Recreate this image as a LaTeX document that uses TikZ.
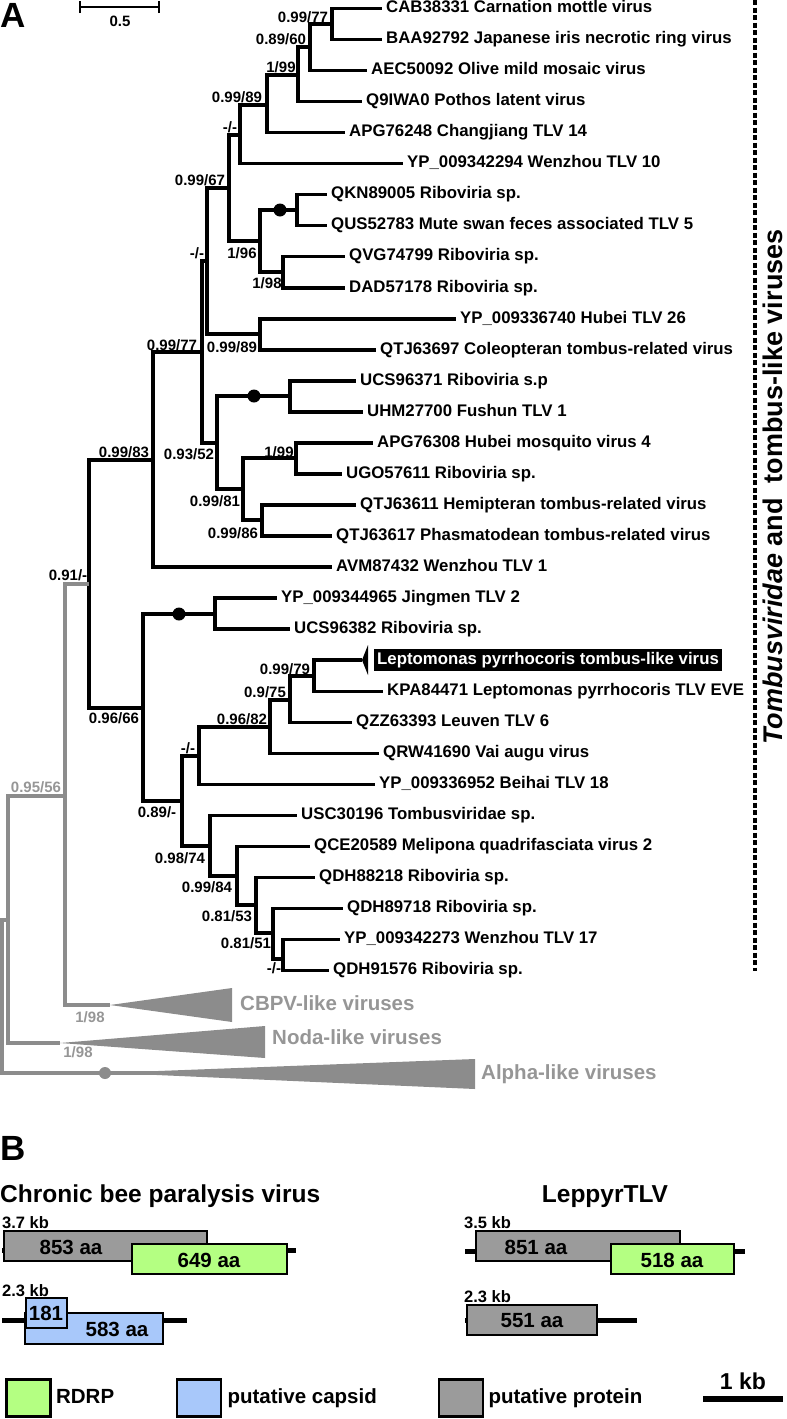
\documentclass[tikz,border=0pt]{standalone}
\usepackage{fontspec}
\setmainfont{Liberation Sans}
\usepackage{xcolor}
\usetikzlibrary{positioning}

\definecolor{treegray}{RGB}{140,140,140}
\definecolor{labgray}{RGB}{150,150,150}
\definecolor{protgray}{RGB}{155,155,155}
\definecolor{rdrpgreen}{RGB}{180,255,130}
\definecolor{capsblue}{RGB}{168,200,250}

\newcommand{\tipfont}{\fontsize{16.8}{18}\selectfont\bfseries}
\newcommand{\suppfont}{\fontsize{15}{16}\selectfont\bfseries}
\newcommand{\cladefont}{\fontsize{20.5}{22}\selectfont\bfseries}
\newcommand{\panelfont}{\fontsize{35}{38}\selectfont\bfseries}
\newcommand{\titlefont}{\fontsize{24.5}{26}\selectfont\bfseries}
\newcommand{\kbfont}{\fontsize{16.5}{18}\selectfont\bfseries}
\newcommand{\aafont}{\fontsize{20.5}{22}\selectfont\bfseries}
\newcommand{\sidefont}{\fontsize{27}{29}\selectfont\bfseries}

\begin{document}
\begin{tikzpicture}[x=1pt, y=-1pt,
br/.style={line width=3.4pt},
graybr/.style={line width=3.4pt, draw=treegray},
tiplab/.style={anchor=west, font=\tipfont, inner xsep=4pt, inner ysep=0pt, text height=12pt, text depth=3.5pt},
supp/.style={font=\suppfont, inner sep=0pt, text height=10.7pt, text depth=0pt},
nodedot/.style={circle, fill=black, inner sep=0pt, minimum size=13pt},
cladelab/.style={anchor=west, font=\cladefont, text=labgray, inner sep=0pt, text height=14.7pt, text depth=0pt},
gene/.style={draw=black, line width=2.8pt},
backbone/.style={line width=5pt},
kb/.style={anchor=base west, inner sep=0pt, font=\kbfont},
aa/.style={font=\aafont, inner sep=0pt, text height=14.7pt, text depth=0pt},
legbox/.style={draw=black, line width=2.8pt, minimum width=44pt, minimum height=37pt, inner sep=0pt},
legtext/.style={font=\aafont, inner sep=0pt, text height=14.7pt, text depth=4pt}]

\useasboundingbox (0,0) rectangle (787,1419);

\node[anchor=base west, inner sep=0pt, font=\panelfont] (labA) at (0,27) {A};
\coordinate (barl) at (80,7);
\coordinate (barr) at (159,7);
\draw[line width=2.6pt] (barl) -- (barr);
\draw[line width=2.6pt] ([yshift=-6]barl) -- ([yshift=6]barl);
\draw[line width=2.6pt] ([yshift=-6]barr) -- ([yshift=6]barr);
\node[supp] (half) at (120,21) {0.5};

\node[tiplab] (cab) at (382,8.5) {CAB38331 Carnation mottle virus};
\node[tiplab] (baa) at (382,39.5) {BAA92792 Japanese iris necrotic ring virus};
\node[tiplab] (aec) at (367,70.6) {AEC50092 Olive mild mosaic virus};
\node[tiplab] (q9i) at (362,101.6) {Q9IWA0 Pothos latent virus};
\node[tiplab] (apg14) at (345,132.6) {APG76248 Changjiang TLV 14};
\node[tiplab] (wz10) at (403,163.7) {YP\_009342294 Wenzhou TLV 10};
\node[tiplab] (qkn) at (327,194.7) {QKN89005 Riboviria sp.};
\node[tiplab] (qus) at (327,225.7) {QUS52783 Mute swan feces associated TLV 5};
\node[tiplab] (qvg) at (345,256.7) {QVG74799 Riboviria sp.};
\node[tiplab] (dad) at (345,287.8) {DAD57178 Riboviria sp.};
\node[tiplab] (hb26) at (456,318.8) {YP\_009336740 Hubei TLV 26};
\node[tiplab] (coleo) at (376,349.8) {QTJ63697 Coleopteran tombus-related virus};
\node[tiplab] (ucs71) at (356,380.9) {UCS96371 Riboviria s.p};
\node[tiplab] (fushun) at (363,411.9) {UHM27700 Fushun TLV 1};
\node[tiplab] (hbmos) at (373,442.9) {APG76308 Hubei mosquito virus 4};
\node[tiplab] (ugo) at (342,474) {UGO57611 Riboviria sp.};
\node[tiplab] (hemi) at (356,505) {QTJ63611 Hemipteran tombus-related virus};
\node[tiplab] (phasma) at (332,536) {QTJ63617 Phasmatodean tombus-related virus};
\node[tiplab] (wz1) at (332,567) {AVM87432 Wenzhou TLV 1};
\node[tiplab] (jm2) at (277,598.1) {YP\_009344965 Jingmen TLV 2};
\node[tiplab] (ucs82) at (290,629.1) {UCS96382 Riboviria sp.};
\node[tiplab, fill=black, text=white, inner xsep=3pt, inner ysep=3.5pt] (lepto) at (374,660.1) {Leptomonas pyrrhocoris tombus-like virus};
\node[tiplab] (kpa) at (383,691.2) {KPA84471 Leptomonas pyrrhocoris TLV EVE};
\node[tiplab] (leuven) at (352,722.2) {QZZ63393 Leuven TLV 6};
\node[tiplab] (vai) at (379,753.2) {QRW41690 Vai augu virus};
\node[tiplab] (bh18) at (375,784.3) {YP\_009336952 Beihai TLV 18};
\node[tiplab] (usc) at (297,815.3) {USC30196 Tombusviridae sp.};
\node[tiplab] (meli) at (310,846.3) {QCE20589 Melipona quadrifasciata virus 2};
\node[tiplab] (qdh18) at (315,877.3) {QDH88218 Riboviria sp.};
\node[tiplab] (qdh89) at (343,908.4) {QDH89718 Riboviria sp.};
\node[tiplab] (wz17) at (340,939.4) {YP\_009342273 Wenzhou TLV 17};
\node[tiplab] (qdh76) at (329,970.4) {QDH91576 Riboviria sp.};

\coordinate (nA) at (332,24);
\coordinate (nB) at (310,47);
\coordinate (nC) at (298,75);
\coordinate (nD) at (267,105);
\coordinate (nE) at (240,135);
\coordinate (nF) at (297,210);
\coordinate (nG) at (283,272);
\coordinate (nH) at (260,241);
\coordinate (nI) at (229,188);
\coordinate (nJ) at (260,334);
\coordinate (nK) at (207,261);
\coordinate (nM) at (290,396);
\coordinate (nN) at (296,458);
\coordinate (nO) at (262,520);
\coordinate (nP) at (243,489);
\coordinate (nQ) at (217,443);
\coordinate (nL) at (202,352);
\coordinate (nR) at (153,460);
\coordinate (nU) at (215,614);
\coordinate (leptotip) at (362,660.1);
\coordinate (nLp) at (314,676);
\coordinate (nV) at (290,700);
\coordinate (nW) at (270,727);
\coordinate (nX) at (199,756);
\coordinate (nAC) at (283,959);
\coordinate (nAB) at (273,933);
\coordinate (nAA) at (256,905);
\coordinate (nZ) at (237,876);
\coordinate (nY) at (210,846);
\coordinate (n089) at (182,801);
\coordinate (n096) at (143,708);
\coordinate (nS) at (89,584);
\coordinate (n095) at (65,796);
\coordinate (nNoda) at (8,920);
\coordinate (root) at (2,997);
\coordinate (cbpvtip) at (110,1005);
\coordinate (nodatip) at (60,1043);
\coordinate (alphatip) at (190,1073);

\draw[br] (nA) |- (cab);
\draw[br] (nA) |- (baa);
\draw[br] (nB) |- (nA);
\draw[br] (nB) |- (aec);
\draw[br] (nC) |- (nB);
\draw[br] (nC) |- (q9i);
\draw[br] (nD) |- (nC);
\draw[br] (nD) |- (apg14);
\draw[br] (nE) |- (nD);
\draw[br] (nE) |- (wz10);
\draw[br] (nF) |- (qkn);
\draw[br] (nF) |- (qus);
\draw[br] (nG) |- (qvg);
\draw[br] (nG) |- (dad);
\draw[br] (nH) |- (nF);
\draw[br] (nH) |- (nG);
\draw[br] (nI) |- (nE);
\draw[br] (nI) |- (nH);
\draw[br] (nJ) |- (hb26);
\draw[br] (nJ) |- (coleo);
\draw[br] (nK) |- (nI);
\draw[br] (nK) |- (nJ);
\draw[br] (nM) |- (ucs71);
\draw[br] (nM) |- (fushun);
\draw[br] (nN) |- (hbmos);
\draw[br] (nN) |- (ugo);
\draw[br] (nO) |- (hemi);
\draw[br] (nO) |- (phasma);
\draw[br] (nP) |- (nN);
\draw[br] (nP) |- (nO);
\draw[br] (nQ) |- (nM);
\draw[br] (nQ) |- (nP);
\draw[br] (nL) |- (nK);
\draw[br] (nL) |- (nQ);
\draw[br] (nR) |- (nL);
\draw[br] (nR) |- (wz1);
\draw[br] (nU) |- (jm2);
\draw[br] (nU) |- (ucs82);
\draw[br] (nLp) |- (leptotip);
\draw[br] (nLp) |- (kpa);
\draw[br] (nV) |- (nLp);
\draw[br] (nV) |- (leuven);
\draw[br] (nW) |- (nV);
\draw[br] (nW) |- (vai);
\draw[br] (nX) |- (nW);
\draw[br] (nX) |- (bh18);
\draw[br] (nAC) |- (wz17);
\draw[br] (nAC) |- (qdh76);
\draw[br] (nAB) |- (qdh89);
\draw[br] (nAB) |- (nAC);
\draw[br] (nAA) |- (qdh18);
\draw[br] (nAA) |- (nAB);
\draw[br] (nZ) |- (meli);
\draw[br] (nZ) |- (nAA);
\draw[br] (nY) |- (usc);
\draw[br] (nY) |- (nZ);
\draw[br] (n089) |- (nX);
\draw[br] (n089) |- (nY);
\draw[br] (n096) |- (nU);
\draw[br] (n096) |- (n089);
\draw[br] (nS) |- (nR);
\draw[br] (nS) |- (n096);
\fill (leptotip) -- (368,645) -- (368,675) -- cycle;

\draw[graybr] (n095) |- (nS);
\draw[graybr] (n095) |- (cbpvtip);
\draw[graybr] (nNoda) |- (n095);
\draw[graybr] (nNoda) |- (nodatip);
\draw[graybr] (root) |- (nNoda);
\draw[graybr] (root) |- (alphatip);
\fill[treegray] (cbpvtip) -- (232,988) -- (232,1022) -- cycle;
\fill[treegray] (nodatip) -- (265,1026) -- (265,1058) -- cycle;
\fill[treegray] (150,1071.3) -- (475,1059) -- (475,1089) -- (150,1074.7) -- cycle;

\node[nodedot] (dotF) at (280,210) {};
\node[nodedot] (dotM) at (254,396) {};
\node[nodedot] (dotU) at (179,614) {};
\node[nodedot, fill=treegray, minimum size=12pt] (dotAlpha) at (105,1073) {};

\node[supp] (sA) at (303,17) {0.99/77};
\node[supp] (sB) at (281,39) {0.89/60};
\node[supp] (sC) at (281,67) {1/99};
\node[supp] (sD) at (237,97) {0.99/89};
\node[supp] (sE) at (230,127) {-/-};
\node[supp] (sI) at (200,180) {0.99/67};
\node[supp] (sH) at (242,253) {1/96};
\node[supp] (sG) at (267,283) {1/98};
\node[supp] (sJ) at (232,347) {0.99/89};
\node[supp] (sK) at (197,253) {-/-};
\node[supp] (sL) at (172,345) {0.99/77};
\node[supp] (sN) at (279,452) {1/99};
\node[supp] (sQ) at (189,454) {0.93/52};
\node[supp] (sP) at (215,501) {0.99/81};
\node[supp] (sO) at (233,533) {0.99/86};
\node[supp] (sR) at (124,452) {0.99/83};
\node[supp] (sS) at (68,575) {0.91/-};
\node[supp] (sLp) at (285,669) {0.99/79};
\node[supp] (sV) at (265,692) {0.9/75};
\node[supp] (sW) at (242,719) {0.96/82};
\node[supp] (sX) at (188,748) {-/-};
\node[supp] (s096) at (114,718) {0.96/66};
\node[supp] (s089) at (157,812) {0.89/-};
\node[supp] (sY) at (180,858) {0.98/74};
\node[supp] (sZ) at (207,887) {0.99/84};
\node[supp] (sAA) at (227,916) {0.81/53};
\node[supp] (sAB) at (246,943) {0.81/51};
\node[supp] (sAC) at (274,968) {-/-};
\node[supp, text=labgray] (s095) at (36,787) {0.95/56};
\node[supp, text=labgray] (scbpv) at (90,1017) {1/98};
\node[supp, text=labgray] (snoda) at (78,1052) {1/98};

\node[cladelab] (cbpv) at (240,1003) {CBPV-like viruses};
\node[cladelab] (noda) at (272,1037) {Noda-like viruses};
\node[cladelab] (alpha) at (481,1072) {Alpha-like viruses};

\coordinate (brtop) at (755,0);
\coordinate (brbot) at (755,971);
\draw[line width=3.4pt, dash pattern=on 5pt off 2.5pt] (brtop) -- (brbot);
\node[rotate=90, font=\sidefont, inner sep=0pt, text height=19.3pt, text depth=0pt] (tombus) at (773,487) {\textit{Tombusviridae} and\ \ tombus-like viruses};

\node[anchor=base west, inner sep=0pt, font=\panelfont] (labB) at (0,1160) {B};
\node[anchor=base west, inner sep=0pt, font=\titlefont] (cbpvtitle) at (0,1202) {Chronic bee paralysis virus};
\node[anchor=base, inner sep=0pt, font=\titlefont] (leptitle) at (605,1202) {LeppyrTLV};

\node[kb] (cbpvkb1) at (2,1228) {3.7 kb};
\draw[backbone] (2,1250) -- (296,1250);
\draw[gene, fill=protgray] (4,1231) rectangle (207,1261);
\draw[gene, fill=rdrpgreen] (132,1244) rectangle (287,1274);
\node[aa] (aa853) at (71,1247) {853 aa};
\node[aa] (aa649) at (209,1260) {649 aa};

\node[kb] (cbpvkb2) at (2,1296) {2.3 kb};
\draw[backbone] (2,1320) -- (187,1320);
\draw[gene, fill=capsblue] (25,1313) rectangle (163,1344);
\draw[gene, fill=capsblue] (26,1298) rectangle (67,1328);
\node[aa] (aa181) at (46,1313) {181};
\node[aa] (aa583) at (117,1329) {583 aa};

\node[kb] (lepkb1) at (464,1228) {3.5 kb};
\draw[backbone] (465,1251) -- (745,1251);
\draw[gene, fill=protgray] (476,1231) rectangle (680,1261);
\draw[gene, fill=rdrpgreen] (611,1244) rectangle (734,1274);
\node[aa] (aa851) at (536,1247) {851 aa};
\node[aa] (aa518) at (672,1260) {518 aa};

\node[kb] (lepkb2) at (464,1302) {2.3 kb};
\draw[backbone] (465,1320) -- (637,1320);
\draw[gene, fill=protgray] (467,1305) rectangle (597,1335);
\node[aa] (aa551) at (532,1320) {551 aa};

\node[legbox, fill=rdrpgreen] (keyrdrp) at (28.5,1398) {};
\node[legtext, right=4pt of keyrdrp] (txtrdrp) {RDRP};
\node[legbox, fill=capsblue] (keycaps) at (199,1398) {};
\node[legtext, right=5pt of keycaps] (txtcaps) {putative capsid};
\node[legbox, fill=protgray] (keyprot) at (461,1398) {};
\node[legtext, right=4pt of keyprot] (txtprot) {putative protein};
\coordinate (kbl) at (703,1399);
\coordinate (kbr) at (783,1399);
\draw[line width=5.5pt] (kbl) -- (kbr);
\node[font=\fontsize{23}{25}\selectfont\bfseries, inner sep=0pt] (onekb) at (743,1381) {1 kb};

\end{tikzpicture}
\end{document}
